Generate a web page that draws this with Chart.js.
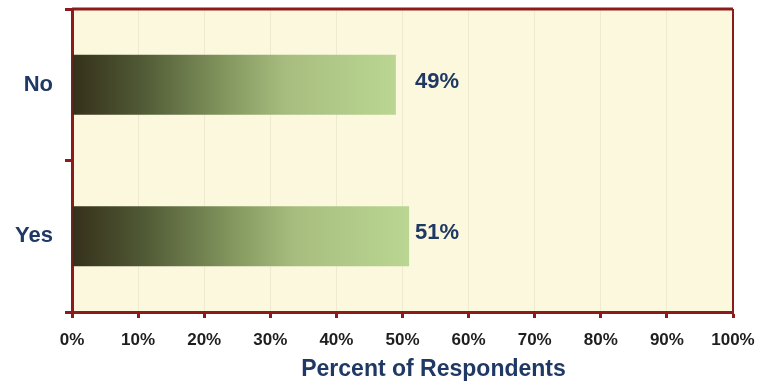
<!DOCTYPE html>
<html>
<head>
<meta charset="utf-8">
<script src="https://cdn.jsdelivr.net/npm/chart.js@4.4.1/dist/chart.umd.min.js"></script>
<style>
html,body{margin:0;padding:0;background:#ffffff;}
#wrap{width:772px;height:383px;position:relative;}
</style>
</head>
<body>
<div id="wrap"><canvas id="c" width="772" height="383"></canvas></div>
<script>
const categories = ['No', 'Yes'];
const percentValues = [49, 51];
const xTickValues = [0, 10, 20, 30, 40, 50, 60, 70, 80, 90, 100];
const axisTitle = 'Percent of Respondents';

const DARK_RED = '#8c1c1c';
const NAVY = '#1f3864';
const CREAM = '#fbf8de';

function barGradient(context) {
  const chart = context.chart;
  const ca = chart.chartArea;
  const xs = chart.scales.x;
  if (!ca || !xs) return '#8a9e68';
  const v = context.raw;
  const x0 = xs.getPixelForValue(0);
  const x1 = xs.getPixelForValue(v);
  const g = chart.ctx.createLinearGradient(x0, 0, x1, 0);
  g.addColorStop(0, '#35301a');
  g.addColorStop(0.22, '#515b36');
  g.addColorStop(0.48, '#84985f');
  g.addColorStop(0.66, '#a7bd7f');
  g.addColorStop(1, '#bad692');
  return g;
}

const framePlugin = {
  id: 'frame',
  beforeDraw(chart) {
    const {ctx, chartArea: a} = chart;
    ctx.save();
    ctx.fillStyle = CREAM;
    ctx.fillRect(a.left, a.top, a.right - a.left, a.bottom - a.top);
    ctx.restore();
  },
  afterDraw(chart) {
    const {ctx, chartArea: a} = chart;
    ctx.save();
    ctx.strokeStyle = DARK_RED;
    ctx.lineWidth = 3;
    ctx.beginPath();
    ctx.moveTo(a.left, a.top);
    ctx.lineTo(a.right, a.top);
    ctx.stroke();
    ctx.lineWidth = 2;
    ctx.beginPath();
    ctx.moveTo(a.right, a.top);
    ctx.lineTo(a.right, a.bottom);
    ctx.stroke();
    // value labels
    const meta = chart.getDatasetMeta(0);
    const xs = chart.scales.x;
    const maxEnd = Math.max(...percentValues.map(v => xs.getPixelForValue(v)));
    ctx.fillStyle = NAVY;
    ctx.font = 'bold 22px "Liberation Sans", Arial, sans-serif';
    ctx.textAlign = 'left';
    ctx.textBaseline = 'middle';
    meta.data.forEach((bar, i) => {
      ctx.fillText(percentValues[i] + '%', maxEnd + 6, bar.y - 3);
    });
    // axis title
    ctx.font = 'bold 23px "Liberation Sans", Arial, sans-serif';
    ctx.textAlign = 'center';
    ctx.fillText(axisTitle, (a.left + a.right) / 2 + 31, 370);
    ctx.restore();
  }
};

new Chart(document.getElementById('c'), {
  type: 'bar',
  data: {
    labels: categories,
    datasets: [{
      data: percentValues,
      backgroundColor: barGradient,
      borderWidth: 0,
      barPercentage: 0.395,
      categoryPercentage: 1
    }]
  },
  options: {
    indexAxis: 'y',
    responsive: false,
    animation: false,
    devicePixelRatio: 1,
    layout: {padding: {top: 9, right: 39, left: 0, bottom: 0}},
    plugins: {legend: {display: false}, tooltip: {enabled: false}, title: {display: false}},
    scales: {
      x: {
        min: 0, max: 100,
        afterBuildTicks(scale) { scale.ticks = xTickValues.map(v => ({value: v})); },
        afterFit(scale) { scale.height = 71; },
        grid: {
          color: '#eeead0',
          lineWidth: 1,
          tickColor: DARK_RED,
          tickWidth: 3,
          tickLength: 6,
          drawOnChartArea: true
        },
        border: {color: DARK_RED, width: 3},
        ticks: {
          color: '#1e1e1e',
          font: {family: '"Liberation Sans", Arial, sans-serif', size: 17, weight: 'bold'},
          padding: 12,
          callback: (v) => v + '%'
        }
      },
      y: {
        afterFit(scale) { scale.width = 72; scale.paddingTop = 0; scale.paddingBottom = 0; },
        grid: {
          offset: true,
          drawOnChartArea: false,
          tickColor: DARK_RED,
          tickWidth: 3,
          tickLength: 7,
          color: DARK_RED
        },
        border: {color: DARK_RED, width: 3},
        ticks: {
          color: NAVY,
          font: {family: '"Liberation Sans", Arial, sans-serif', size: 22, weight: 'bold'},
          padding: 12
        }
      }
    }
  },
  plugins: [framePlugin]
});
</script>
</body>
</html>
